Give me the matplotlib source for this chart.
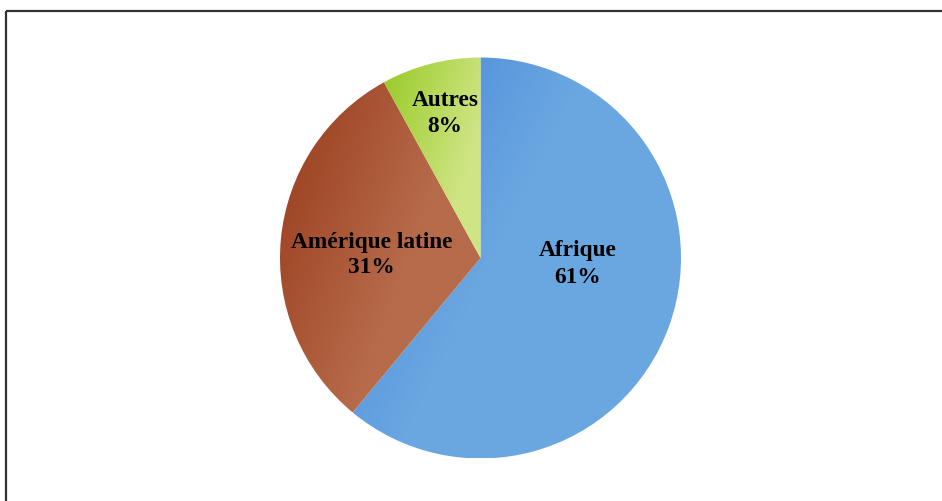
import numpy as np
import matplotlib
matplotlib.use("Agg")
import matplotlib.pyplot as plt
from matplotlib.colors import LinearSegmentedColormap

labels = ["Afrique", "Amérique latine", "Autres"]
values = [61, 31, 8]
dark_colors = ["#4382d7", "#983a1a", "#98ca26"]
light_colors = ["#6aa7e1", "#b66b4a", "#cfe585"]

W, H = 942, 502
fig = plt.figure(figsize=(W / 100, H / 100), dpi=100)
ax = fig.add_axes([0, 0, 1, 1])

cx, cy, r = 480.5, H - 259, 200.5
wedges, _ = ax.pie(values, startangle=90, counterclock=False, center=(cx, cy),
                   radius=r, colors=light_colors, frame=True)

# gradient fills clipped to each wedge
ramp_end = [0.45, 0.6, 0.75]
for w, dc, lc, re in zip(wedges, dark_colors, light_colors, ramp_end):
    w.set_facecolor("none")
    w.set_edgecolor("none")
    ext = w.get_path().get_extents()
    x0, y0, x1, y1 = ext.x0, ext.y0, ext.x1, ext.y1
    nx, ny = 200, 200
    xs = np.linspace(0, 1, nx)
    ys = np.linspace(1, 0, ny)  # top row first
    X, Y = np.meshgrid(xs, ys)
    t = (X * 0.75 + (1 - Y) * 0.45) / 1.2
    t = np.clip(t / re, 0, 1)
    cmap = LinearSegmentedColormap.from_list("g", [dc, lc])
    im = ax.imshow(t, cmap=cmap, vmin=0, vmax=1, extent=(x0, x1, y0, y1),
                   origin="upper", interpolation="bilinear", zorder=1)
    im.set_clip_path(w)

ax.set_xlim(0, W)
ax.set_ylim(0, H)
ax.set_aspect("equal")
ax.axis("off")

# labels (name line and percent line, baselines in image px)
font = dict(family=["Liberation Serif", "DejaVu Serif"], fontweight="bold",
            fontsize=16.8, color="black", ha="center", va="baseline", zorder=5)
label_pos = [(578, 256, 283), (371.5, 248, 273), (445, 106, 132)]
for lab, v, (lx, b1, b2) in zip(labels, values, label_pos):
    ax.text(lx, H - b1, lab, **font)
    ax.text(lx, H - b2, f"{v}%", **font)

# frame (top and left edges visible)
ax.plot([6, W + 5], [H - 11.5, H - 11.5], color="#333333", lw=1.6,
        solid_capstyle="butt", zorder=6, clip_on=False)
ax.plot([6, 6], [H - 11.5, -5], color="#333333", lw=1.6,
        solid_capstyle="butt", zorder=6, clip_on=False)

fig.savefig("out.png", dpi=100, facecolor="white")
